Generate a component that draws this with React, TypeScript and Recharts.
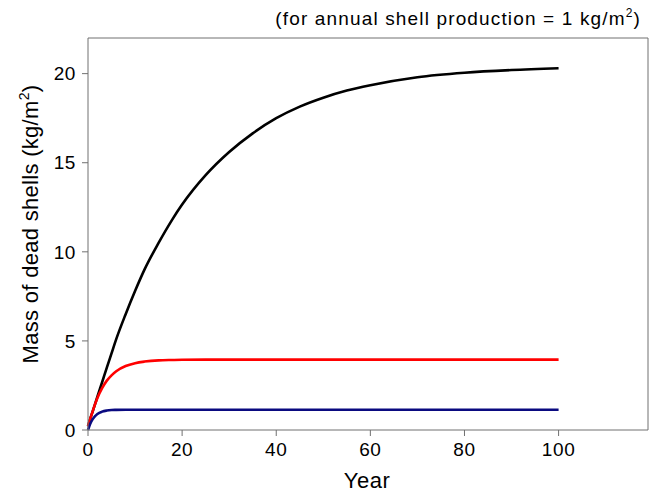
import React from "react";
import { LineChart, Line, XAxis, YAxis, ReferenceLine } from "recharts";

const years = [0, 0.5, 1, 1.5, 2, 3, 4, 5, 6, 8, 10, 12, 15, 18, 20, 25, 30, 35, 40, 45, 50, 55, 60, 70, 80, 90, 100];
const slowDecay = [0.2, 0.65, 1.05, 1.45, 1.87, 2.68, 3.5, 4.3, 5.1, 6.5, 7.8, 9.0, 10.5, 11.85, 12.65, 14.3, 15.6, 16.65, 17.5, 18.15, 18.65, 19.05, 19.35, 19.8, 20.05, 20.2, 20.3];
const midDecay = [0.2, 0.65, 1.05, 1.45, 1.8, 2.35, 2.77, 3.07, 3.3, 3.59, 3.75, 3.84, 3.91, 3.93, 3.94, 3.95, 3.95, 3.95, 3.95, 3.95, 3.95, 3.95, 3.95, 3.95, 3.95, 3.95, 3.95];
const fastDecay = [0, 0.36, 0.61, 0.78, 0.9, 1.03, 1.09, 1.12, 1.13, 1.14, 1.14, 1.14, 1.14, 1.14, 1.14, 1.14, 1.14, 1.14, 1.14, 1.14, 1.14, 1.14, 1.14, 1.14, 1.14, 1.14, 1.14];
const xTicks = [0, 20, 40, 60, 80, 100];
const yTicks = [0, 5, 10, 15, 20];

const data = years.map((year, i) => ({
  year,
  slow: slowDecay[i],
  mid: midDecay[i],
  fast: fastDecay[i],
}));

const font = "'Liberation Sans', Arial, sans-serif";
const axisColor = "#707070";

export default function App() {
  return (
    <div style={{ position: "absolute", left: 0, top: 0, width: 653, height: 492, fontFamily: font }}>
      <LineChart width={653} height={492} data={data} margin={{ top: 38, right: 5, bottom: 0, left: 0 }}>
        <XAxis
          dataKey="year"
          type="number"
          domain={[0, 119]}
          ticks={xTicks}
          height={62}
          tickSize={6}
          tickMargin={7}
          stroke={axisColor}
          tick={{ fill: "#000", fontSize: 19, fontFamily: font, letterSpacing: 0.6 }}
        />
        <YAxis
          type="number"
          domain={[0, 22]}
          ticks={yTicks}
          width={88}
          tickSize={6}
          tickMargin={6}
          stroke={axisColor}
          tick={{ fill: "#000", fontSize: 19, fontFamily: font, letterSpacing: 0.6 }}
        />
        <ReferenceLine y={22} stroke={axisColor} strokeWidth={1} />
        <ReferenceLine x={119} stroke={axisColor} strokeWidth={1} />
        <Line type="monotone" dataKey="slow" stroke="#000000" strokeWidth={2.6} dot={false} isAnimationActive={false} />
        <Line type="monotone" dataKey="mid" stroke="#ff0000" strokeWidth={2.6} dot={false} isAnimationActive={false} />
        <Line type="monotone" dataKey="fast" stroke="#0a0a80" strokeWidth={2.6} dot={false} isAnimationActive={false} />
      </LineChart>
      <svg width={653} height={492} style={{ position: "absolute", left: 0, top: 0, pointerEvents: "none" }}>
        <text x={641} y={25} textAnchor="end" fontSize={19} fontFamily={font} letterSpacing={1.15} fill="#000">
          (for annual shell production = 1 kg/m<tspan dy={-8} fontSize={12}>2</tspan><tspan dy={8}>)</tspan>
        </text>
        <text
          x={0}
          y={0}
          transform="translate(38,224) rotate(-90)"
          textAnchor="middle"
          fontSize={22}
          fontFamily={font}
          letterSpacing={0.3}
          fill="#000"
        >
          Mass of dead shells (kg/m<tspan dy={-9} fontSize={14}>2</tspan><tspan dy={9}>)</tspan>
        </text>
        <text x={367} y={488} textAnchor="middle" fontSize={22} fontFamily={font} letterSpacing={0.5} fill="#000">
          Year
        </text>
      </svg>
    </div>
  );
}
